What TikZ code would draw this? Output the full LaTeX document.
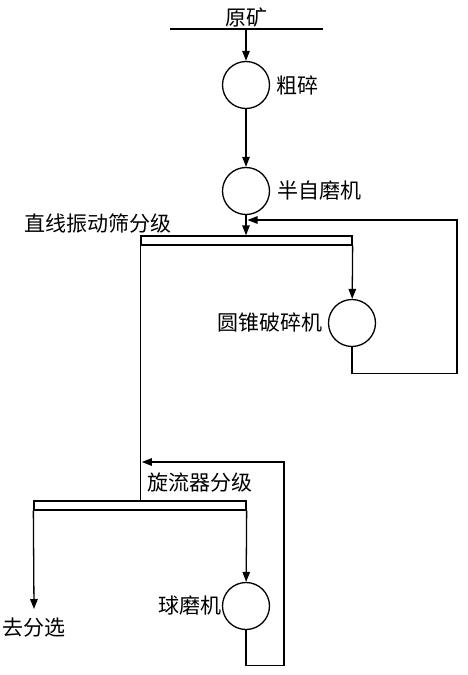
\documentclass[tikz,border=0pt]{standalone}
\usepackage{fontspec}
\newfontfamily\cjk{Noto Sans CJK SC}
\usepackage{tikz}
\usetikzlibrary{positioning,arrows.meta,calc}

\begin{document}
\begin{tikzpicture}[x=1pt, y=-1pt, line width=1.3pt,
    mill/.style={circle, draw, minimum size=47pt, inner sep=0pt},
    screen/.style={draw, minimum height=9pt, inner sep=0pt},
    flow/.style={-{Triangle[length=10pt, width=7.5pt]}},
    lbl/.style={font=\cjk\fontsize{21pt}{21pt}\selectfont, inner sep=0pt}]
        \useasboundingbox (0,0) rectangle (468,675);
        % Feed line and crushing circuit
        \draw (170,29) -- (323,29);
        \node[lbl, anchor=south] (ore) at (246,28) {原矿};
        \node[mill] (cu) at (246,85) {};
        \node[lbl, right=6pt of cu] (cuL) {粗碎};
        \node[mill] (sag) at (246,191) {};
        \node[lbl, right=7pt of sag] (sagL) {半自磨机};
        \draw[flow] (ore.south) -- (cu);
        \draw[flow] (cu) -- (sag);
        % Linear vibrating screen with cone crusher loop
        \node[screen, minimum width=211pt] (scr1) at (246.5,240.5) {};
        \node[lbl, anchor=east] (scr1L) at (172,223) {直线振动筛分级};
        \node[mill] (cone) at (352,323) {};
        \node[lbl, left=5pt of cone] (coneL) {圆锥破碎机};
        \coordinate (j1) at ($(sag.south |- 0,220)+(1.5,0)$);
        \draw[flow] (sag) -- (sag.south |- scr1.north);
        \draw[flow] (scr1.south east) -- (cone);
        \draw[flow] (cone.south) -- ++(0,26) -| (457,220) -- (j1);
        % Cyclone classification with ball mill loop
        \node[screen, minimum width=212pt] (cyc) at (140,505.5) {};
        \node[lbl, anchor=west] (cycL) at (147,483) {旋流器分级};
        \node[mill] (ball) at (246,606) {};
        \node[lbl, left=0pt of ball] (ballL) {球磨机};
        \coordinate (out) at (34,609);
        \node[lbl, below=8pt of out] (outL) {去分选};
        \coordinate (j2) at ($(scr1.south west |- 0,462)+(1.5,0)$);
        \draw (scr1.south west) -- (scr1.south west |- cyc.north);
        \draw[flow] (cyc.south west) -- (out);
        \draw[flow] (cyc.south east) -- (ball);
        \draw[flow] (ball.south) -- ++(0,35) -| (284,462) -- (j2);
    \end{tikzpicture}
\end{document}
